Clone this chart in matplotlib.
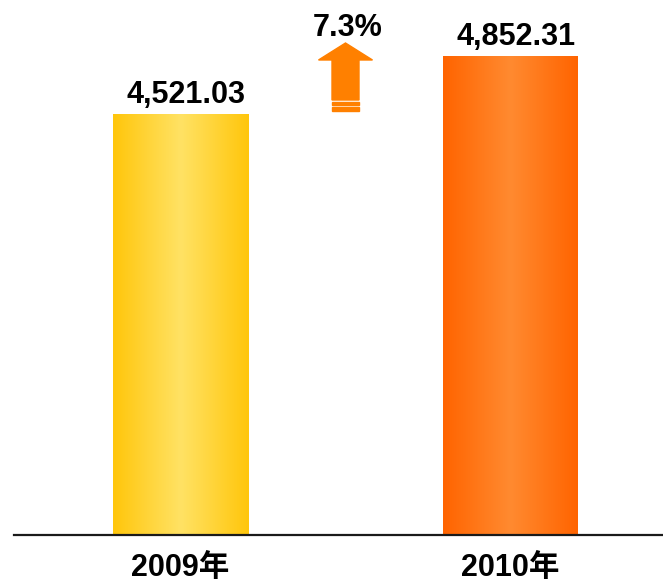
import numpy as np
import matplotlib
matplotlib.use("Agg")
import matplotlib.pyplot as plt
from matplotlib.patches import Polygon, Rectangle
from matplotlib.colors import LinearSegmentedColormap

categories = ["2009年", "2010年"]
values = [4521.03, 4852.31]
value_labels = ["4,521.03", "4,852.31"]
edge_colors = ["#FFC60B", "#FF6400"]
center_colors = ["#FFE264", "#FF8A30"]

growth = (values[1] / values[0] - 1) * 100

W, H = 663, 582
fig = plt.figure(figsize=(W / 100, H / 100), dpi=100)
ax = fig.add_axes([14 / W, 1 - 535 / H, 1 - 14 / W, 535 / H])

ymin = 2100
ppu = 0.17387  # px per unit
ymax = ymin + 535 / ppu
ax.set_ylim(ymin, ymax)
xmin = -(180.5 - 14) / 330
ax.set_xlim(xmin, xmin + 649 / 330)

x = np.arange(len(categories))
bw = 135 / 330
bars = ax.bar(x, values, width=bw, color="none", edgecolor="none", zorder=2)

grad = np.abs(np.linspace(-1, 1, 256))[None, :]
for b, ec, cc in zip(bars, edge_colors, center_colors):
    cmap = LinearSegmentedColormap.from_list("g", [cc, ec])
    x0, y0 = b.get_x(), ymin
    im = ax.imshow(grad, cmap=cmap, aspect="auto",
                   extent=[x0, x0 + b.get_width(), y0, b.get_height()],
                   zorder=1, interpolation="bilinear")
    im.set_clip_path(b)

for xi, v, lab in zip(x, values, value_labels):
    ax.annotate(lab, (xi, v), xytext=(4, 3), textcoords="offset points",
                ha="center", va="bottom", fontsize=22, fontweight="bold",
                family=["Liberation Sans", "DejaVu Sans"])

# growth arrow between bars
def py(p):
    return ymin + (535 - p) / ppu

ax_c = 0.5
hw, sw = 27 / 330, 13.5 / 330
arrow_col = "#FF8000"
pts = [(ax_c, py(43)), (ax_c + hw, py(60)), (ax_c + sw, py(60)),
       (ax_c + sw, py(100)), (ax_c - sw, py(100)), (ax_c - sw, py(60)),
       (ax_c - hw, py(60))]
ax.add_patch(Polygon(pts, closed=True, color=arrow_col, zorder=3))
for top, bot in [(101.7, 105), (107.3, 110.7)]:
    ax.add_patch(Rectangle((ax_c - sw, py(bot)), 2 * sw, py(top) - py(bot),
                           color=arrow_col, zorder=3))
ax.text(ax_c + 0.005, py(36), f"{growth:.1f}%", ha="center", va="baseline",
        fontsize=22, fontweight="bold", family=["Liberation Sans", "DejaVu Sans"])

ax.set_xticks(x)
ax.set_xticklabels(categories, fontsize=22, fontweight="bold",
                   family=["Liberation Sans", "Noto Sans CJK SC"])
ax.tick_params(axis="x", length=0, pad=13)
ax.set_yticks([])
for s in ["top", "right", "left"]:
    ax.spines[s].set_visible(False)
ax.spines["bottom"].set_linewidth(1.6)
ax.spines["bottom"].set_color("#1a1a1a")
ax.patch.set_alpha(0)

fig.savefig("out.png", dpi=100)
